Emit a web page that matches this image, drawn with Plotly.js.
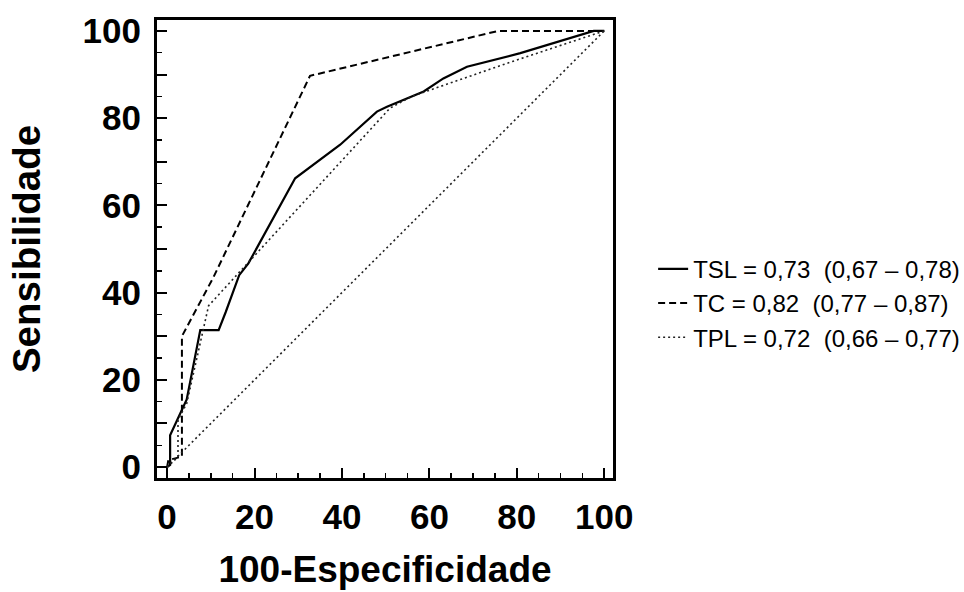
<!DOCTYPE html>
<html>
<head>
<meta charset="utf-8">
<script src="https://cdn.plot.ly/plotly-3.0.1.min.js"></script>
<style>html,body{margin:0;padding:0;background:#fff;}#chart{width:964px;height:592px;}</style>
</head>
<body>
<div id="chart"></div>
<script>
// TSL curve (100-Especificidade, Sensibilidade)
const tslX = [0, 0.7, 0.7, 2.8, 3.6, 4.5, 7.6, 11.8, 13.4, 16.5, 18.6, 29.3, 39.6, 48, 50.3, 54.1, 58.7, 63.2, 68.6, 80.8, 88.4, 94.5, 97.6, 100];
const tslY = [0, 0.5, 7.3, 11.9, 13.5, 15.5, 31.4, 31.4, 35.5, 44, 46.7, 66.2, 73.9, 81.5, 82.6, 84.2, 86.1, 89.1, 91.8, 94.9, 97.2, 99.1, 100, 100];
// TC curve
const tcX = [0, 0.3, 3.4, 3.4, 10.6, 32.7, 75.8, 100];
const tcY = [0, 1.6, 2.4, 30, 43.5, 89.7, 100, 100];
// TPL curve
const tplX = [0, 2.5, 2.5, 4.5, 9.5, 51, 56, 79, 100];
const tplY = [0, 2.3, 10.8, 14.6, 37, 82.3, 85, 93, 100];
// chance diagonal
const refX = [0, 100];
const refY = [0, 100];

const seriesNames = ["TSL = 0,73  (0,67 \u2013 0,78)", "TC = 0,82  (0,77 \u2013 0,87)", "TPL = 0,72  (0,66 \u2013 0,77)"];

const xTickVals = [0, 20, 40, 60, 80, 100];
const xTickText = ["0", "20", "40", "60", "80", "100"];
const yTickVals = [0, 10, 20, 30, 40, 50, 60, 70, 80, 90, 100];
const yTickText = ["0", "", "20", "", "40", "", "60", "", "80", "", "100"];

const traces = [
  {x: tslX, y: tslY, mode: "lines", name: seriesNames[0], legendgroup: "a",
   line: {color: "#000", width: 2.2, dash: "solid"}},
  {x: tcX, y: tcY, mode: "lines", name: seriesNames[1], legendgroup: "b",
   line: {color: "#000", width: 2, dash: "7px,4px"}},
  {x: tplX, y: tplY, mode: "lines", name: seriesNames[2], legendgroup: "c",
   line: {color: "#222", width: 1.6, dash: "2px,3px"}},
  {x: refX, y: refY, mode: "lines", showlegend: false, hoverinfo: "skip",
   line: {color: "#222", width: 1.6, dash: "2px,3px"}}
];

const tickFont = {family: "Liberation Sans, Arial, sans-serif", size: 35, color: "#000", weight: 700};

const layout = {
  width: 964, height: 592,
  margin: {l: 157, r: 351, t: 20, b: 114, autoexpand: false},
  paper_bgcolor: "#fff", plot_bgcolor: "#fff",
  showlegend: true,
  legend: {
    x: 1.088, xanchor: "left", y: 0.505, yanchor: "top",
    traceorder: "grouped", tracegroupgap: 0,
    font: {family: "Liberation Sans, Arial, sans-serif", size: 24, color: "#000"},
    bgcolor: "rgba(0,0,0,0)", itemwidth: 30
  },
  xaxis: {
    range: [-2.3, 102], showgrid: false, zeroline: false,
    showline: true, mirror: true, linecolor: "#000", linewidth: 3,
    tickmode: "array", tickvals: xTickVals, ticktext: xTickText,
    ticks: "inside", ticklen: 10, tickwidth: 2, tickcolor: "#000",
    minor: {dtick: 5, ticks: "inside", ticklen: 5, tickwidth: 1.5, tickcolor: "#000", showgrid: false},
    tickfont: tickFont, ticklabelstandoff: 6,
    title: {text: "100-Especificidade", font: {family: "Liberation Sans, Arial, sans-serif", size: 37, color: "#000", weight: 700}, standoff: 22}
  },
  yaxis: {
    range: [-2.5, 102.5], showgrid: false, zeroline: false,
    showline: true, mirror: true, linecolor: "#000", linewidth: 3,
    tickmode: "array", tickvals: yTickVals, ticktext: yTickText,
    ticks: "inside", ticklen: 10, tickwidth: 2, tickcolor: "#000",
    minor: {dtick: 5, ticks: "inside", ticklen: 5, tickwidth: 1.5, tickcolor: "#000", showgrid: false},
    tickfont: tickFont, ticklabelstandoff: 6,
    title: {text: "Sensibilidade", font: {family: "Liberation Sans, Arial, sans-serif", size: 38.5, color: "#000", weight: 700}, standoff: 31}
  }
};

Plotly.newPlot("chart", traces, layout, {displayModeBar: false, staticPlot: true});
</script>
</body>
</html>
